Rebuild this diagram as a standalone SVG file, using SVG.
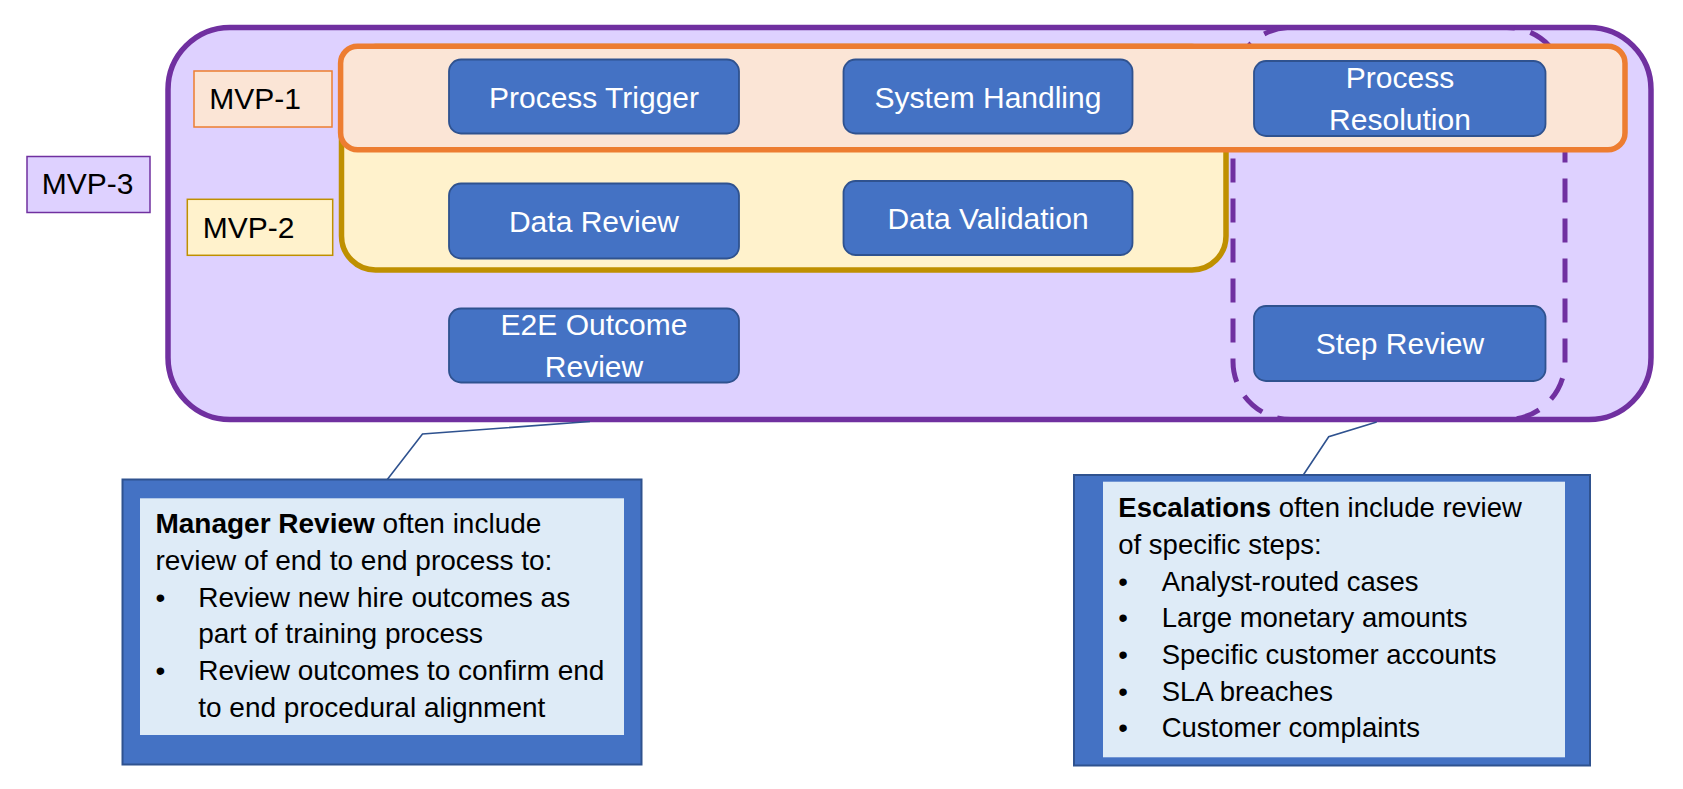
<svg xmlns="http://www.w3.org/2000/svg" width="1683" height="789" viewBox="0 0 1683 789">
  <style>
    text { font-family: "Liberation Sans", Arial, sans-serif; }
    .node rect { fill: #4472C4; stroke: #2F528F; stroke-width: 1.8; }
    .node text { fill: #FFFFFF; font-size: 30px; text-anchor: middle; }
    .lbl text { fill: #000000; font-size: 30px; }
    .callout-outer { fill: #4472C4; stroke: #2F528F; stroke-width: 2; }
    .callout-inner { fill: #DEEBF7; }
    .ctext { fill: #000000; }
    .conn { fill: none; stroke: #2F528F; stroke-width: 1.6; }
  </style>
  <rect width="1683" height="789" fill="#FFFFFF"/>

  <!-- MVP-3 container -->
  <g id="mvp3-region">
    <rect x="168" y="27.5" width="1483" height="392" rx="62" ry="62" fill="#DED1FF" stroke="#7030A0" stroke-width="5.5"/>
  </g>
  <!-- MVP-2 region -->
  <g id="mvp2-region">
    <rect x="341.5" y="46.5" width="884.5" height="223.5" rx="34" ry="34" fill="#FFF2CC" stroke="#BF9000" stroke-width="5.5"/>
  </g>
  <!-- Escalation dashed region -->
  <g id="escalation-region">
    <rect x="1233" y="27.5" width="332" height="392" rx="58" ry="58" fill="none" stroke="#7030A0" stroke-width="5" stroke-dasharray="24 16"/>
  </g>
  <!-- MVP-1 region -->
  <g id="mvp1-region">
    <rect x="340.6" y="46.3" width="1284.4" height="103.4" rx="17" ry="17" fill="#FBE5D6" stroke="#ED7D31" stroke-width="5.5"/>
  </g>

  <!-- Labels -->
  <g id="label-mvp3" class="lbl">
    <rect x="27" y="156.5" width="123" height="56" fill="#DED1FF" stroke="#7030A0" stroke-width="1.5"/>
    <text x="41.7" y="194.3">MVP-3</text>
  </g>
  <g id="label-mvp1" class="lbl">
    <rect x="194" y="71" width="138" height="56" fill="#FBE5D6" stroke="#ED7D31" stroke-width="1.5"/>
    <text x="209.3" y="109.3">MVP-1</text>
  </g>
  <g id="label-mvp2" class="lbl">
    <rect x="187.3" y="199.3" width="145.4" height="56" fill="#FFF2CC" stroke="#BF9000" stroke-width="1.5"/>
    <text x="202.7" y="237.7">MVP-2</text>
  </g>

  <!-- Nodes -->
  <g id="process-trigger" class="node">
    <rect x="449" y="59.5" width="290" height="74" rx="12" ry="12"/>
    <text x="594" y="108">Process Trigger</text>
  </g>
  <g id="system-handling" class="node">
    <rect x="843.5" y="59.5" width="289" height="74" rx="12" ry="12"/>
    <text x="988" y="108">System Handling</text>
  </g>
  <g id="process-resolution" class="node">
    <rect x="1254" y="61" width="291.5" height="75" rx="12" ry="12"/>
    <text x="1400" y="88">Process</text>
    <text x="1400" y="130">Resolution</text>
  </g>
  <g id="data-review" class="node">
    <rect x="449" y="183.5" width="290" height="75" rx="12" ry="12"/>
    <text x="594" y="231.5">Data Review</text>
  </g>
  <g id="data-validation" class="node">
    <rect x="843.5" y="181" width="289" height="74" rx="12" ry="12"/>
    <text x="988" y="228.5">Data Validation</text>
  </g>
  <g id="e2e-outcome-review" class="node">
    <rect x="449" y="308.5" width="290" height="74" rx="12" ry="12"/>
    <text x="594" y="335">E2E Outcome</text>
    <text x="594" y="376.5">Review</text>
  </g>
  <g id="step-review" class="node">
    <rect x="1254" y="306" width="291.5" height="75" rx="12" ry="12"/>
    <text x="1400" y="353.5">Step Review</text>
  </g>

  <!-- Connectors (callout pointers) -->
  <g id="connectors">
    <polyline class="conn" points="590,421.5 422.5,434 387.3,479.5"/>
    <polyline class="conn" points="1376.7,422 1328.7,436.7 1303.3,475"/>
  </g>

  <!-- Manager Review callout -->
  <g id="callout-manager-review">
    <rect class="callout-outer" x="122.5" y="479.5" width="519" height="285"/>
    <rect class="callout-inner" x="140" y="498.3" width="484" height="236.7"/>
    <text class="ctext" font-size="28">
      <tspan x="155.4" y="533.3"><tspan font-weight="bold">Manager Review</tspan> often include</tspan>
      <tspan x="155.4" y="570">review of end to end process to:</tspan>
      <tspan x="155.4" y="606.7">•</tspan><tspan x="198.2" y="606.7">Review new hire outcomes as</tspan>
      <tspan x="198.2" y="643.3">part of training process</tspan>
      <tspan x="155.4" y="680">•</tspan><tspan x="198.2" y="680">Review outcomes to confirm end</tspan>
      <tspan x="198.2" y="716.7">to end procedural alignment</tspan>
    </text>
  </g>

  <!-- Escalations callout -->
  <g id="callout-escalations">
    <rect class="callout-outer" x="1074" y="475" width="516" height="290.5"/>
    <rect class="callout-inner" x="1103" y="481.7" width="462" height="275.6"/>
    <text class="ctext" font-size="27.5">
      <tspan x="1118.3" y="517.3"><tspan font-weight="bold">Escalations</tspan> often include review</tspan>
      <tspan x="1118.3" y="554">of specific steps:</tspan>
      <tspan x="1118.3" y="590.7">•</tspan><tspan x="1161.7" y="590.7">Analyst-routed cases</tspan>
      <tspan x="1118.3" y="627.3">•</tspan><tspan x="1161.7" y="627.3">Large monetary amounts</tspan>
      <tspan x="1118.3" y="664">•</tspan><tspan x="1161.7" y="664">Specific customer accounts</tspan>
      <tspan x="1118.3" y="700.7">•</tspan><tspan x="1161.7" y="700.7">SLA breaches</tspan>
      <tspan x="1118.3" y="737.3">•</tspan><tspan x="1161.7" y="737.3">Customer complaints</tspan>
    </text>
  </g>
</svg>
